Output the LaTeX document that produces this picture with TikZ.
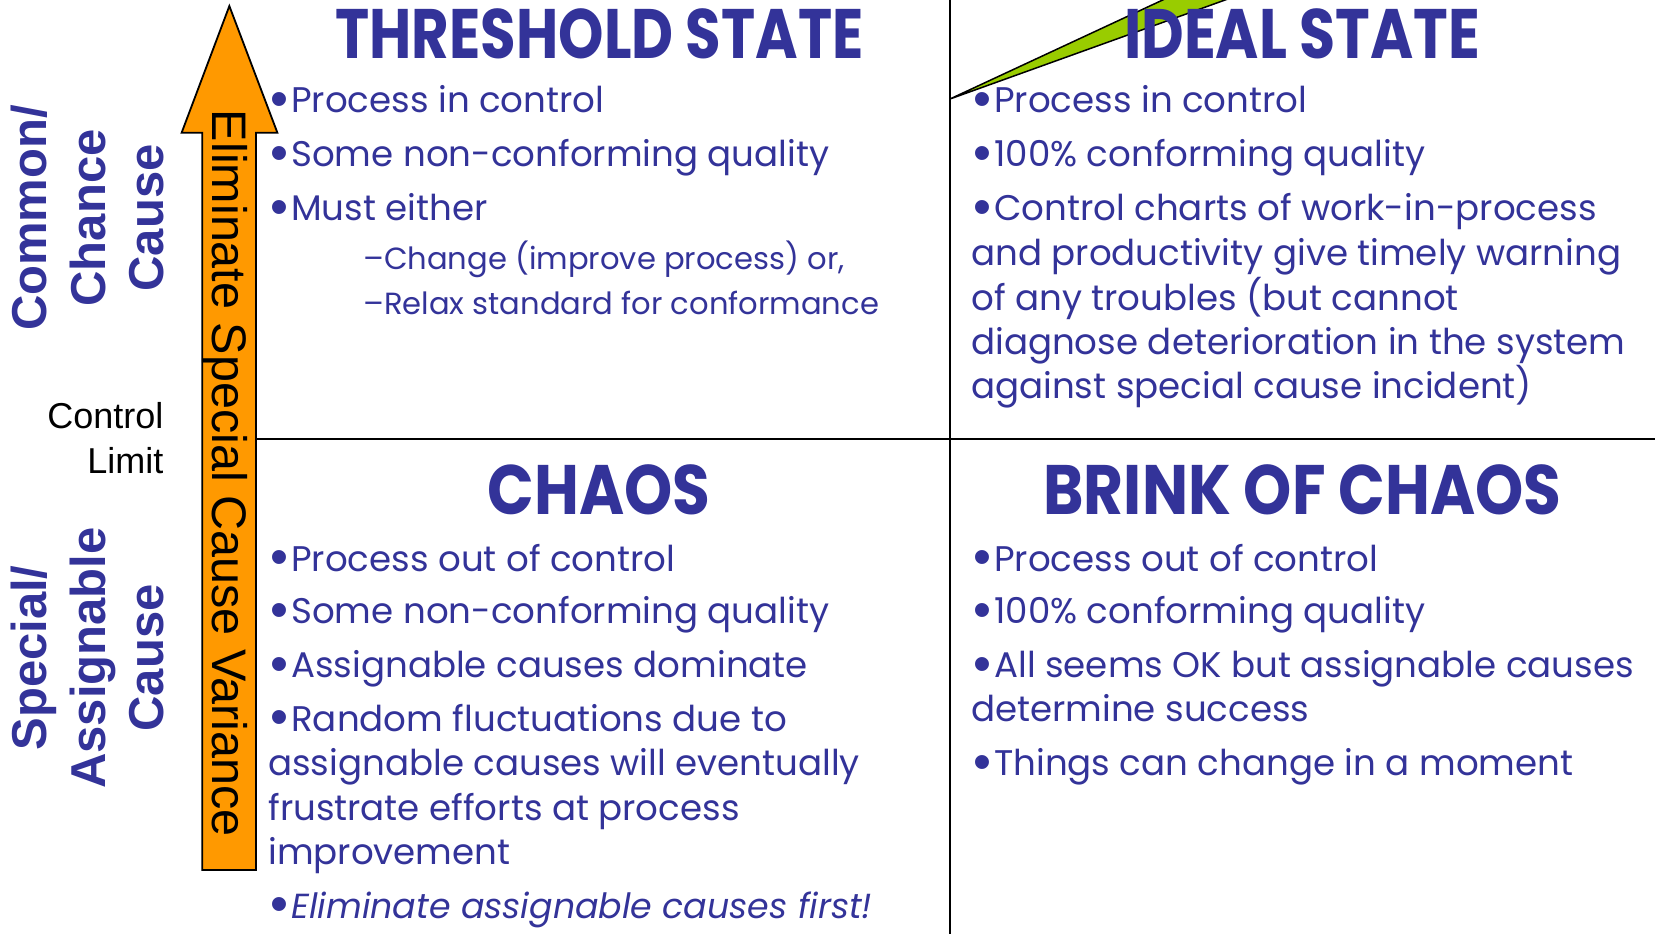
\documentclass[tikz,border=0pt]{standalone}
\usepackage{fontspec}
\usepackage{graphicx}
\setmainfont{Poppins}
\newfontfamily\arialfont{Liberation Sans}
\definecolor{navy}{RGB}{51,51,153}
\definecolor{arroworange}{RGB}{255,153,0}
\definecolor{leafgreen}{RGB}{153,204,0}

% squeeze a heading horizontally to a given width (in pt), keeping its height
\newsavebox\ttlbox
\newlength\ttlwd
\newcommand\squeezeto[2]{%
  \sbox\ttlbox{#2}\setlength\ttlwd{\wd\ttlbox}%
  \pgfmathsetmacro\sqx{#1/\ttlwd}%
  \scalebox{\sqx}[1]{\usebox\ttlbox}}
% round bullet followed by the hanging indent
\newcommand\blt{\makebox[23pt][l]{\hspace{2.5pt}\smash{\raisebox{-3.5pt}{\scalebox{1.35}{\arialfont\fontsize{38}{40}\selectfont •}}}}}

\tikzset{
  bodytxt/.style={anchor=base west, inner sep=0pt, text=navy,
    font=\fontsize{35.6}{40}\selectfont},
  subtxt/.style={bodytxt, font=\fontsize{30.6}{34}\selectfont},
  heading/.style={anchor=base, inner sep=0pt, text=navy,
    font=\fontsize{70}{80}\selectfont\bfseries},
  sidelabel/.style={anchor=base, rotate=90, inner sep=0pt, text=navy,
    font=\arialfont\fontsize{49}{55}\selectfont\bfseries},
  limittxt/.style={anchor=base east, inner sep=0pt, text=black,
    font=\arialfont\fontsize{36}{40}\selectfont},
  arrowtxt/.style={anchor=base west, rotate=-90, inner sep=0pt, text=black,
    font=\arialfont\fontsize{48.5}{52}\selectfont},
  divider/.style={draw=black, line width=2pt},
}

\begin{document}
\begin{tikzpicture}[x=1.05548pt, y=-1.05548pt]
\useasboundingbox (0,0) rectangle (1568,885);
\fill[white] (0,0) rectangle (1568,885);

% quadrant dividers
\coordinate (vtop) at (900,0);
\coordinate (vbot) at (900,885);
\coordinate (hleft) at (242.5,416);
\coordinate (hright) at (1568,416);
\draw[divider] (vtop) -- (vbot);
\draw[divider] (hleft) -- (hright);

% green wedge entering from the top edge
\coordinate (wtip) at (900,93.8);
\coordinate (wa) at (1108,-3);
\coordinate (wb) at (1169,-3);
\begin{scope}
  \clip (0,0) rectangle (1568,885);
  \draw[fill=leafgreen, draw=black, line width=1.5pt, line join=miter] (wtip) -- (wa) -- (wb) -- cycle;
\end{scope}

% upward orange arrow
\coordinate (atip) at (217.3,5.7);
\coordinate (arw) at (262.8,125.7);
\coordinate (ars) at (242.5,125.7);
\coordinate (arb) at (242.5,824.3);
\coordinate (alb) at (191.7,824.3);
\coordinate (als) at (191.7,125.7);
\coordinate (alw) at (172.1,125.7);
\draw[fill=arroworange, draw=black, line width=1.8pt, line join=miter]
  (atip) -- (arw) -- (ars) -- (arb) -- (alb) -- (als) -- (alw) -- cycle;
\node[arrowtxt] (arrowlabel) at (200.9,104) {Eliminate Special Cause Variance};

% side labels
\node[sidelabel] (common) at (44.5,206.5) {Common/};
\node[sidelabel] (chance) at (99.5,206.5) {Chance};
\node[sidelabel] (causeA) at (154.5,206.5) {Cause};
\node[sidelabel] (special) at (44.5,623.4) {Special/};
\node[sidelabel] (assign) at (99.5,623.4) {Assignable};
\node[sidelabel] (causeB) at (154.5,623.4) {Cause};
\node[limittxt] (control) at (155,405.5) {Control};
\node[limittxt] (limit) at (155,449) {Limit};

% headings
\node[heading] (hthresh) at (568,55.5) {\squeezeto{527.8}{THRESHOLD STATE}};
\node[heading] (hideal) at (1233.5,55.5) {\squeezeto{355.7}{IDEAL STATE}};
\node[heading] (hchaos) at (567.5,487) {\squeezeto{222.7}{CHAOS}};
\node[heading] (hbrink) at (1234,487) {\squeezeto{518}{BRINK OF CHAOS}};

% threshold state
\node[bodytxt] (t1) at (254,107) {\blt Process in control};
\node[bodytxt] (t2) at (254,158) {\blt Some non-conforming quality};
\node[bodytxt] (t3) at (254,209) {\blt Must either};
\node[subtxt] (t4) at (344,255) {–Change (improve process) or,};
\node[subtxt] (t5) at (344,298) {–Relax standard for conformance};

% ideal state
\node[bodytxt] (i1) at (920,107) {\blt Process in control};
\node[bodytxt] (i2) at (920,158) {\blt 100\% conforming quality};
\node[bodytxt] (i3) at (920,209) {\blt Control charts of work-in-process};
\node[bodytxt] (i4) at (920,252) {and productivity give timely warning};
\node[bodytxt] (i5) at (920,294) {of any troubles (but cannot};
\node[bodytxt] (i6) at (920,336) {diagnose deterioration in the system};
\node[bodytxt] (i7) at (920,378) {against special cause incident)};

% chaos
\node[bodytxt] (c1) at (254,541) {\blt Process out of control};
\node[bodytxt] (c2) at (254,591) {\blt Some non-conforming quality};
\node[bodytxt] (c3) at (254,642) {\blt Assignable causes dominate};
\node[bodytxt] (c4) at (254,693) {\blt Random fluctuations due to};
\node[bodytxt] (c5) at (254,735) {assignable causes will eventually};
\node[bodytxt] (c6) at (254,777) {frustrate efforts at process};
\node[bodytxt] (c7) at (254,819) {improvement};
\node[bodytxt] (c8) at (254,870) {\blt\fontsize{34.8}{40}\selectfont\textit{Eliminate assignable causes first!}};

% brink of chaos
\node[bodytxt] (b1) at (920,541) {\blt Process out of control};
\node[bodytxt] (b2) at (920,591) {\blt 100\% conforming quality};
\node[bodytxt] (b3) at (920,642) {\blt All seems OK but assignable causes};
\node[bodytxt] (b4) at (920,684) {determine success};
\node[bodytxt] (b5) at (920,735) {\blt Things can change in a moment};
\end{tikzpicture}
\end{document}
